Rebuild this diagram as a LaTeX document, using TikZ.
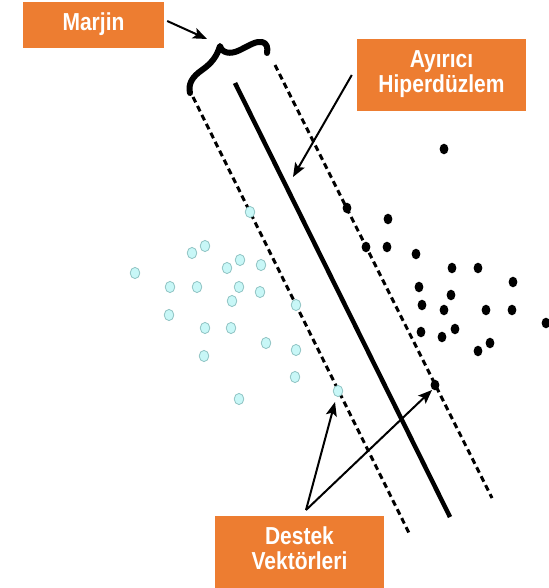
\documentclass[tikz,border=0pt]{standalone}
\usepackage{fontspec}
\setmainfont{Liberation Sans}
\usetikzlibrary{arrows.meta}
\definecolor{boxorange}{HTML}{ED7D31}
\definecolor{dotfill}{HTML}{C8F7F7}
\definecolor{dotedge}{HTML}{8FC3C3}
\newcommand{\tallbox}[1]{\scalebox{1}[1.17]{\begin{tabular}{@{}c@{}}#1\end{tabular}}}
\begin{document}
\begin{tikzpicture}[x=1pt,y=-1pt,
  tag/.style={fill=boxorange, text=white, inner sep=0pt, align=center,
    font=\bfseries\fontsize{21}{21.5}\selectfont},
  pointer/.style={line width=2pt, -{Stealth[length=14pt,width=11pt,inset=3pt]}},
  hyperplane/.style={line width=4.5pt},
  marginline/.style={line width=3pt, dash pattern=on 6pt off 4pt},
  bracestroke/.style={line width=6pt, line cap=round, line join=round},
  negdot/.style={fill=dotfill, draw=dotedge, line width=0.8pt},
  posdot/.style={fill=black}]
\useasboundingbox (0,0) rectangle (548,588);

% separating hyperplane and the two margin lines
\coordinate (hA) at (235,83);  \coordinate (hB) at (450,517);
\coordinate (lA) at (193,97);  \coordinate (lB) at (410,535);
\coordinate (rA) at (275,65);  \coordinate (rB) at (492,498);
\draw[hyperplane] (hA) -- (hB);
\draw[marginline] (lA) -- (lB);
\draw[marginline] (rA) -- (rB);

% margin brace spanning the two margin lines
\coordinate (braceL) at (190,93);
\coordinate (braceTip) at (220,46);
\coordinate (braceR) at (267,53);
\draw[bracestroke] (braceL) .. controls (188,84) and (192,77) .. (202,70)
  .. controls (212,63) and (217,56) .. (braceTip)
  .. controls (222,53) and (230,55) .. (240,50)
  .. controls (250,45) and (256,41) .. (262,42)
  .. controls (267,43) and (268,48) .. (braceR);

% class samples
\foreach \px/\py in {250/212,205/246,192/253,135/273,227/268,240/260,261/265,
  170/287,197/287,239/287,260/292,232/301,296/305,169/315,205/328,231/328,
  266/343,296/350,204/356,295/377,239/399,338/391}
  \filldraw[negdot] (\px,\py) ellipse [x radius=4.8, y radius=5.6];
\foreach \px/\py in {444/149,347/208,388/219,366/247,387/247,416/254,452/268,
  478/268,513/282,419/287,451/295,422/305,444/310,486/310,512/310,546/323,
  421/332,442/337,455/329,478/351,490/343,435/385}
  \fill[posdot] (\px,\py) ellipse [x radius=4.4, y radius=5.3];

% labels
\node[tag, minimum width=141pt, minimum height=46pt] (marjin) at (93.5,25) {\tallbox{Marjin}};
\node[tag, minimum width=169pt, minimum height=72pt] (hyper) at (441.5,75) {\tallbox{Ayırıcı\\Hiperdüzlem}};
\node[tag, minimum width=169pt, minimum height=72pt] (destek) at (299.5,552) {\tallbox{Destek\\Vektörleri}};

% pointers
\coordinate (marjinTip) at (207,39);
\coordinate (hyperTip) at (293,177);
\coordinate (svLeft) at (335,402);
\coordinate (svRight) at (432,390);
\coordinate (destekRoot) at (306,510);
\draw[pointer] ([xshift=3pt,yshift=4pt]marjin.east) -- (marjinTip);
\draw[pointer] ([xshift=-5pt]hyper.west) -- (hyperTip);
\draw[pointer] (destekRoot) -- (svLeft);
\draw[pointer] (destekRoot) -- (svRight);
\end{tikzpicture}
\end{document}
